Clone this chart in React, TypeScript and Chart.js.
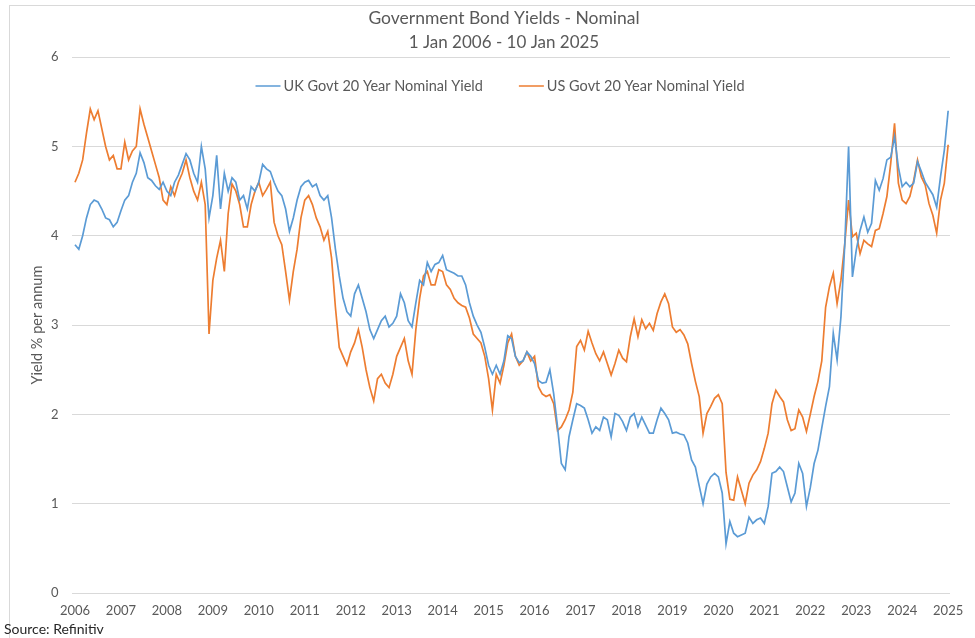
import React, { useEffect, useRef } from "react";
import { Chart, registerables } from "chart.js";

Chart.register(...registerables);

// Monthly observations, Jan 2006 .. Jan 2025 (first of each month)
const START_YEAR = 2006;
const yearTicks = [2006, 2007, 2008, 2009, 2010, 2011, 2012, 2013, 2014, 2015, 2016, 2017, 2018, 2019, 2020, 2021, 2022, 2023, 2024, 2025];

const ukYield = [
  // 2006
  3.9, 3.85, 4.0, 4.2, 4.35, 4.4, 4.38, 4.3, 4.2, 4.18, 4.1, 4.15,
  // 2007
  4.28, 4.4, 4.45, 4.6, 4.7, 4.93, 4.82, 4.65, 4.62, 4.56, 4.52, 4.6,
  // 2008
  4.5, 4.45, 4.6, 4.68, 4.8, 4.92, 4.85, 4.7, 4.6, 5.0, 4.75, 4.2,
  // 2009
  4.45, 4.9, 4.3, 4.7, 4.5, 4.65, 4.6, 4.4, 4.45, 4.3, 4.55, 4.5,
  // 2010
  4.6, 4.8, 4.75, 4.72, 4.6, 4.5, 4.45, 4.3, 4.05, 4.2, 4.4, 4.55,
  // 2011
  4.6, 4.62, 4.55, 4.58, 4.45, 4.4, 4.45, 4.2, 3.85, 3.55, 3.3, 3.15,
  // 2012
  3.1, 3.35, 3.45, 3.3, 3.15, 2.95, 2.85, 2.95, 3.05, 3.1, 2.98, 3.02,
  // 2013
  3.1, 3.35, 3.25, 3.05, 2.98, 3.25, 3.5, 3.45, 3.7, 3.6, 3.68, 3.7,
  // 2014
  3.78, 3.62, 3.6, 3.58, 3.55, 3.55, 3.45, 3.25, 3.1, 3.0, 2.92, 2.75,
  // 2015
  2.55, 2.45, 2.55, 2.45, 2.6, 2.88, 2.85, 2.65, 2.58, 2.6, 2.7, 2.65,
  // 2016
  2.57, 2.38, 2.35, 2.36, 2.5, 2.23, 1.86, 1.45, 1.38, 1.75, 1.94, 2.12,
  // 2017
  2.1, 2.07, 1.94, 1.79, 1.86, 1.82, 1.97, 1.94, 1.75, 2.01, 1.99, 1.92,
  // 2018
  1.82, 1.97, 2.01, 1.86, 1.97, 1.88, 1.79, 1.79, 1.94, 2.07, 2.01, 1.94,
  // 2019
  1.79, 1.8, 1.78, 1.77, 1.68, 1.49, 1.41, 1.2, 1.0, 1.22, 1.3, 1.34,
  // 2020
  1.3, 1.12, 0.55, 0.8, 0.67, 0.63, 0.65, 0.67, 0.85, 0.78, 0.82, 0.84,
  // 2021
  0.78, 0.97, 1.34, 1.36, 1.41, 1.36, 1.19, 1.02, 1.12, 1.45, 1.34, 0.97,
  // 2022
  1.18, 1.45, 1.6, 1.85, 2.09, 2.31, 2.91, 2.61, 3.09, 3.9, 5.0, 3.54,
  // 2023
  3.84, 4.06, 4.21, 4.04, 4.14, 4.62, 4.51, 4.64, 4.85, 4.88, 5.11, 4.77,
  // 2024
  4.55, 4.6, 4.55, 4.59, 4.83, 4.72, 4.6, 4.53, 4.46, 4.32, 4.66, 4.96,
  // 2025
  5.4,
];

const usYield = [
  // 2006
  4.6, 4.7, 4.85, 5.15, 5.42, 5.3, 5.4, 5.2, 5.0, 4.85, 4.9, 4.75,
  // 2007
  4.75, 5.05, 4.85, 4.95, 5.0, 5.42, 5.25, 5.1, 4.95, 4.8, 4.65, 4.4,
  // 2008
  4.35, 4.55, 4.45, 4.6, 4.7, 4.85, 4.65, 4.5, 4.4, 4.6, 4.35, 2.9,
  // 2009
  3.5, 3.75, 3.95, 3.6, 4.25, 4.58, 4.5, 4.35, 4.1, 4.1, 4.35, 4.5,
  // 2010
  4.6, 4.45, 4.52, 4.6, 4.15, 4.0, 3.9, 3.6, 3.28, 3.6, 3.85, 4.2,
  // 2011
  4.4, 4.45, 4.35, 4.2, 4.1, 3.95, 4.05, 3.75, 3.2, 2.75, 2.65, 2.55,
  // 2012
  2.7, 2.8, 2.95, 2.75, 2.5, 2.3, 2.15, 2.4, 2.45, 2.35, 2.3, 2.45,
  // 2013
  2.65, 2.75, 2.85, 2.6, 2.45, 2.95, 3.3, 3.55, 3.6, 3.45, 3.45, 3.62,
  // 2014
  3.6, 3.45, 3.4, 3.3, 3.25, 3.22, 3.2, 3.08, 2.9, 2.85, 2.8, 2.65,
  // 2015
  2.4, 2.05, 2.45, 2.35, 2.55, 2.8, 2.9, 2.65, 2.55, 2.6, 2.7, 2.6,
  // 2016
  2.65, 2.31, 2.23, 2.2, 2.22, 2.12, 1.82, 1.86, 1.94, 2.05, 2.25, 2.76,
  // 2017
  2.83, 2.72, 2.93, 2.8, 2.68, 2.6, 2.7, 2.57, 2.44, 2.57, 2.72, 2.63,
  // 2018
  2.59, 2.87, 3.07, 2.87, 3.06, 2.96, 3.02, 2.94, 3.13, 3.26, 3.35, 3.24,
  // 2019
  2.98, 2.92, 2.95, 2.89, 2.79, 2.57, 2.37, 2.2, 1.79, 2.01, 2.09, 2.18,
  // 2020
  2.22, 2.12, 1.35, 1.05, 1.04, 1.3, 1.15, 1.0, 1.23, 1.32, 1.38, 1.47,
  // 2021
  1.62, 1.79, 2.12, 2.27, 2.2, 2.14, 1.94, 1.82, 1.84, 2.05, 1.97, 1.81,
  // 2022
  2.0, 2.2, 2.37, 2.6, 3.2, 3.43, 3.58, 3.24, 3.5, 3.91, 4.4, 3.99,
  // 2023
  4.03, 3.8, 3.95, 3.91, 3.88, 4.06, 4.08, 4.25, 4.44, 4.81, 5.26, 4.59,
  // 2024
  4.4, 4.36, 4.44, 4.62, 4.85, 4.66, 4.57, 4.36, 4.23, 4.03, 4.4, 4.59,
  // 2025
  5.02,
];

const seriesNames = ["UK Govt 20 Year Nominal Yield", "US Govt 20 Year Nominal Yield"];
const seriesColors = ["#5B9BD5", "#ED7D31"];
const titleText = "Government Bond Yields - Nominal";
const subtitleText = "1 Jan 2006 - 10 Jan 2025";
const yAxisTitle = "Yield % per annum";
const sourceText = "Source: Refinitiv";

const FONT = "Lato, 'Open Sans', sans-serif";
const GREY = "#595959";

const toPoints = (vals: number[]) => vals.map((v, i) => ({ x: START_YEAR + i / 12, y: v }));

const legendPlugin = {
  id: "inlineLegend",
  afterDatasetsDraw(chart: any) {
    const { ctx, chartArea } = chart;
    ctx.save();
    ctx.font = `14.5px ${FONT}`;
    ctx.textBaseline = "middle";
    const lineW = 25;
    const gapText = 3;
    const gapItem = 36;
    const items = chart.data.datasets.map((d: any) => ({
      text: d.label,
      color: d.borderColor,
      w: lineW + gapText + ctx.measureText(d.label).width,
    }));
    const total = items.reduce((s: number, it: any) => s + it.w, 0) + gapItem * (items.length - 1);
    let x = (chartArea.left + chartArea.right) / 2 - 11 - total / 2;
    const y = 86;
    items.forEach((it: any) => {
      ctx.strokeStyle = it.color;
      ctx.lineWidth = 1.5;
      ctx.beginPath();
      ctx.moveTo(x, y);
      ctx.lineTo(x + lineW, y);
      ctx.stroke();
      ctx.fillStyle = GREY;
      ctx.fillText(it.text, x + lineW + gapText, y);
      x += it.w + gapItem;
    });
    ctx.restore();
  },
};

const framePlugin = {
  id: "frameAndSource",
  afterDraw(chart: any) {
    const { ctx } = chart;
    ctx.save();
    ctx.strokeStyle = "#d9d9d9";
    ctx.lineWidth = 1;
    ctx.strokeRect(9.5, 5.5, 1000, 700);
    ctx.fillStyle = "#262626";
    ctx.font = `14px ${FONT}`;
    ctx.textBaseline = "middle";
    ctx.fillText(sourceText, 4, 629);
    ctx.restore();
  },
};

export default function App() {
  const canvasRef = useRef<HTMLCanvasElement | null>(null);

  useEffect(() => {
    document.body.style.margin = "0";
    const canvas = canvasRef.current;
    if (!canvas) return;
    const chart = new Chart(canvas, {
      type: "line",
      data: {
        datasets: [
          {
            label: seriesNames[0],
            data: toPoints(ukYield),
            borderColor: seriesColors[0],
            backgroundColor: seriesColors[0],
            borderWidth: 1.7,
            pointRadius: 0,
            tension: 0,
          },
          {
            label: seriesNames[1],
            data: toPoints(usYield),
            borderColor: seriesColors[1],
            backgroundColor: seriesColors[1],
            borderWidth: 1.7,
            pointRadius: 0,
            tension: 0,
          },
        ],
      },
      options: {
        responsive: false,
        animation: false,
        parsing: false,
        normalized: true,
        layout: { padding: { left: 58, right: 25, top: 0, bottom: 0 } },
        plugins: {
          legend: { display: false },
          tooltip: { enabled: false },
          title: {
            display: true,
            text: titleText,
            color: GREY,
            font: { family: FONT, size: 17.5, weight: "normal", lineHeight: 1.2 },
            padding: { top: 8, bottom: 0 },
          },
          subtitle: {
            display: true,
            text: subtitleText,
            color: GREY,
            font: { family: FONT, size: 17, weight: "normal", lineHeight: 1.2 },
            padding: { top: 3.8, bottom: 4 },
          },
        },
        scales: {
          x: {
            type: "linear",
            min: 2005.935,
            max: 2025.04,
            afterBuildTicks: (scale: any) => {
              scale.ticks = yearTicks.map((v) => ({ value: v }));
            },
            afterFit: (scale: any) => {
              scale.height = 45;
            },
            grid: { display: false, drawTicks: false },
            border: { display: false },
            ticks: {
              autoSkip: false,
              maxRotation: 0,
              padding: 10,
              color: GREY,
              font: { family: FONT, size: 13 },
              callback: (v: any) => String(v),
            },
          },
          y: {
            min: 0,
            max: 6,
            afterFit: (scale: any) => {
              scale.width = 14;
            },
            grid: { color: "#d9d9d9", lineWidth: 1, drawTicks: false },
            border: { display: false },
            ticks: {
              stepSize: 1,
              mirror: true,
              padding: -21,
              color: GREY,
              font: { family: FONT, size: 13 },
            },
            title: {
              display: true,
              text: yAxisTitle,
              color: GREY,
              font: { family: FONT, size: 14.5, lineHeight: 1.2 },
              padding: { top: -29.7, bottom: 0 },
            },
          },
        },
      },
      plugins: [legendPlugin, framePlugin],
    });
    return () => chart.destroy();
  }, []);

  return (
    <div style={{ width: 975, height: 638, background: "#ffffff" }}>
      <canvas ref={canvasRef} width={975} height={638} style={{ display: "block" }} />
    </div>
  );
}
